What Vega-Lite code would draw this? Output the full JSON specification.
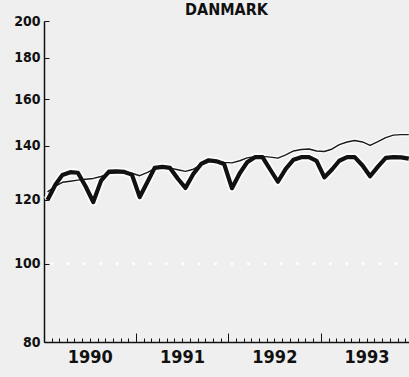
{
  "$schema": "https://vega.github.io/schema/vega-lite/v6.json",
  "autosize": "none",
  "width": 365,
  "height": 321,
  "padding": {"left": 44, "top": 21, "right": 0, "bottom": 35},
  "background": "#efefef",
  "title": {"text": "DANMARK", "anchor": "middle", "font": "DejaVu Sans Condensed, Liberation Sans, sans-serif", "fontWeight": "bold", "fontSize": 16, "color": "#111", "offset": 0, "dy": 20, "baseline": "bottom"},
  "config": {"view": {"stroke": null}},
  "data": {"values": [
    {"date": "1990-01-15", "series": "actual", "value": 120.0}, {"date": "1990-02-15", "series": "actual", "value": 125.3}, {"date": "1990-03-15", "series": "actual", "value": 128.9}, {"date": "1990-04-15", "series": "actual", "value": 129.9}, {"date": "1990-05-15", "series": "actual", "value": 129.7}, {"date": "1990-06-15", "series": "actual", "value": 124.7}, {"date": "1990-07-15", "series": "actual", "value": 119.3}, {"date": "1990-08-15", "series": "actual", "value": 126.8}, {"date": "1990-09-15", "series": "actual", "value": 130.1}, {"date": "1990-10-15", "series": "actual", "value": 130.2}, {"date": "1990-11-15", "series": "actual", "value": 130.0}, {"date": "1990-12-15", "series": "actual", "value": 129.0},
    {"date": "1991-01-15", "series": "actual", "value": 121.0}, {"date": "1991-02-15", "series": "actual", "value": 126.4}, {"date": "1991-03-15", "series": "actual", "value": 131.5}, {"date": "1991-04-15", "series": "actual", "value": 131.9}, {"date": "1991-05-15", "series": "actual", "value": 131.5}, {"date": "1991-06-15", "series": "actual", "value": 127.5}, {"date": "1991-07-15", "series": "actual", "value": 124.2}, {"date": "1991-08-15", "series": "actual", "value": 129.2}, {"date": "1991-09-15", "series": "actual", "value": 133.0}, {"date": "1991-10-15", "series": "actual", "value": 134.4}, {"date": "1991-11-15", "series": "actual", "value": 134.0}, {"date": "1991-12-15", "series": "actual", "value": 133.0},
    {"date": "1992-01-15", "series": "actual", "value": 124.1}, {"date": "1992-02-15", "series": "actual", "value": 129.5}, {"date": "1992-03-15", "series": "actual", "value": 133.6}, {"date": "1992-04-15", "series": "actual", "value": 135.6}, {"date": "1992-05-15", "series": "actual", "value": 135.6}, {"date": "1992-06-15", "series": "actual", "value": 130.8}, {"date": "1992-07-15", "series": "actual", "value": 126.4}, {"date": "1992-08-15", "series": "actual", "value": 131.1}, {"date": "1992-09-15", "series": "actual", "value": 134.6}, {"date": "1992-10-15", "series": "actual", "value": 135.6}, {"date": "1992-11-15", "series": "actual", "value": 135.6}, {"date": "1992-12-15", "series": "actual", "value": 134.2},
    {"date": "1993-01-15", "series": "actual", "value": 128.0}, {"date": "1993-02-15", "series": "actual", "value": 131.0}, {"date": "1993-03-15", "series": "actual", "value": 134.2}, {"date": "1993-04-15", "series": "actual", "value": 135.6}, {"date": "1993-05-15", "series": "actual", "value": 135.6}, {"date": "1993-06-15", "series": "actual", "value": 132.4}, {"date": "1993-07-15", "series": "actual", "value": 128.4}, {"date": "1993-08-15", "series": "actual", "value": 132.0}, {"date": "1993-09-15", "series": "actual", "value": 135.3}, {"date": "1993-10-15", "series": "actual", "value": 135.6}, {"date": "1993-11-15", "series": "actual", "value": 135.5}, {"date": "1993-12-15", "series": "actual", "value": 135.0},
    {"date": "1990-01-15", "series": "trend", "value": 122.8}, {"date": "1990-02-15", "series": "trend", "value": 124.8}, {"date": "1990-03-15", "series": "trend", "value": 126.2}, {"date": "1990-04-15", "series": "trend", "value": 126.6}, {"date": "1990-05-15", "series": "trend", "value": 127.0}, {"date": "1990-06-15", "series": "trend", "value": 127.3}, {"date": "1990-07-15", "series": "trend", "value": 127.6}, {"date": "1990-08-15", "series": "trend", "value": 128.3}, {"date": "1990-09-15", "series": "trend", "value": 129.4}, {"date": "1990-10-15", "series": "trend", "value": 129.8}, {"date": "1990-11-15", "series": "trend", "value": 129.9}, {"date": "1990-12-15", "series": "trend", "value": 129.5},
    {"date": "1991-01-15", "series": "trend", "value": 128.6}, {"date": "1991-02-15", "series": "trend", "value": 129.8}, {"date": "1991-03-15", "series": "trend", "value": 131.2}, {"date": "1991-04-15", "series": "trend", "value": 131.7}, {"date": "1991-05-15", "series": "trend", "value": 131.4}, {"date": "1991-06-15", "series": "trend", "value": 130.8}, {"date": "1991-07-15", "series": "trend", "value": 130.2}, {"date": "1991-08-15", "series": "trend", "value": 131.0}, {"date": "1991-09-15", "series": "trend", "value": 132.6}, {"date": "1991-10-15", "series": "trend", "value": 133.8}, {"date": "1991-11-15", "series": "trend", "value": 133.9}, {"date": "1991-12-15", "series": "trend", "value": 133.6},
    {"date": "1992-01-15", "series": "trend", "value": 133.4}, {"date": "1992-02-15", "series": "trend", "value": 134.2}, {"date": "1992-03-15", "series": "trend", "value": 135.3}, {"date": "1992-04-15", "series": "trend", "value": 135.8}, {"date": "1992-05-15", "series": "trend", "value": 135.9}, {"date": "1992-06-15", "series": "trend", "value": 135.6}, {"date": "1992-07-15", "series": "trend", "value": 135.2}, {"date": "1992-08-15", "series": "trend", "value": 136.5}, {"date": "1992-09-15", "series": "trend", "value": 138.0}, {"date": "1992-10-15", "series": "trend", "value": 138.6}, {"date": "1992-11-15", "series": "trend", "value": 138.8}, {"date": "1992-12-15", "series": "trend", "value": 138.0},
    {"date": "1993-01-15", "series": "trend", "value": 137.8}, {"date": "1993-02-15", "series": "trend", "value": 138.8}, {"date": "1993-03-15", "series": "trend", "value": 140.5}, {"date": "1993-04-15", "series": "trend", "value": 141.6}, {"date": "1993-05-15", "series": "trend", "value": 142.2}, {"date": "1993-06-15", "series": "trend", "value": 141.6}, {"date": "1993-07-15", "series": "trend", "value": 140.2}, {"date": "1993-08-15", "series": "trend", "value": 141.7}, {"date": "1993-09-15", "series": "trend", "value": 143.4}, {"date": "1993-10-15", "series": "trend", "value": 144.4}, {"date": "1993-11-15", "series": "trend", "value": 144.6}, {"date": "1993-12-15", "series": "trend", "value": 144.6}
  ]},
  "layer": [
    {
      "mark": {"type": "rule", "stroke": "#ffffff", "strokeWidth": 3, "strokeCap": "round", "strokeDash": [0.1, 16.3], "strokeDashOffset": -4},
      "encoding": {
        "x": {
          "field": "date", "type": "temporal", "aggregate": "min",
          "scale": {"type": "utc", "domain": [{"year": 1990, "month": 1, "date": 1, "utc": true}, {"year": 1993, "month": 12, "date": 16, "utc": true}]},
          "axis": {
            "title": null, "grid": false,
            "tickCount": {"interval": "month", "step": 1},
            "labelExpr": "utcmonth(datum.value) == 6 ? utcFormat(datum.value, '%Y') : ''",
            "labelOverlap": false, "labelBound": false, "labelFlush": false,
            "tickSize": {"condition": {"test": "utcmonth(datum.value) == 0", "value": -9}, "value": -4},
            "tickColor": "#111", "tickWidth": 1,
            "domainColor": "#111", "domainWidth": 1.5,
            "labelFont": "DejaVu Sans Condensed, Liberation Sans, sans-serif", "labelFontWeight": "bold", "labelFontSize": 18, "labelColor": "#111", "labelPadding": 10
          }
        },
        "x2": {"field": "date", "aggregate": "max"},
        "y": {
          "datum": 100, "type": "quantitative",
          "scale": {"type": "log", "domain": [80, 200], "nice": false},
          "axis": {
            "title": null, "grid": false,
            "values": [80, 100, 120, 140, 160, 180, 200],
            "format": "d",
            "tickSize": -5, "tickColor": "#111", "tickWidth": 1,
            "domainColor": "#111", "domainWidth": 1.5,
            "labelFont": "DejaVu Sans Condensed, Liberation Sans, sans-serif", "labelFontWeight": "bold", "labelFontSize": 14, "labelColor": "#111", "labelPadding": 9
          }
        }
      }
    },
    {
      "transform": [{"filter": "datum.series == 'trend'"}],
      "mark": {"type": "line", "stroke": "#ffffff", "strokeWidth": 4, "opacity": 0.8, "strokeJoin": "round"},
      "encoding": {"x": {"field": "date", "type": "temporal"}, "y": {"field": "value", "type": "quantitative"}}
    },
    {
      "transform": [{"filter": "datum.series == 'actual'"}],
      "mark": {"type": "line", "stroke": "#ffffff", "strokeWidth": 8, "opacity": 0.8, "strokeJoin": "round"},
      "encoding": {"x": {"field": "date", "type": "temporal"}, "y": {"field": "value", "type": "quantitative"}}
    },
    {
      "transform": [{"filter": "datum.series == 'trend'"}],
      "mark": {"type": "line", "stroke": "#1a1a1a", "strokeWidth": 1.4, "strokeJoin": "round"},
      "encoding": {"x": {"field": "date", "type": "temporal"}, "y": {"field": "value", "type": "quantitative"}}
    },
    {
      "transform": [{"filter": "datum.series == 'actual'"}],
      "mark": {"type": "line", "stroke": "#111111", "strokeWidth": 4.2, "strokeJoin": "round"},
      "encoding": {"x": {"field": "date", "type": "temporal"}, "y": {"field": "value", "type": "quantitative"}}
    }
  ]
}
